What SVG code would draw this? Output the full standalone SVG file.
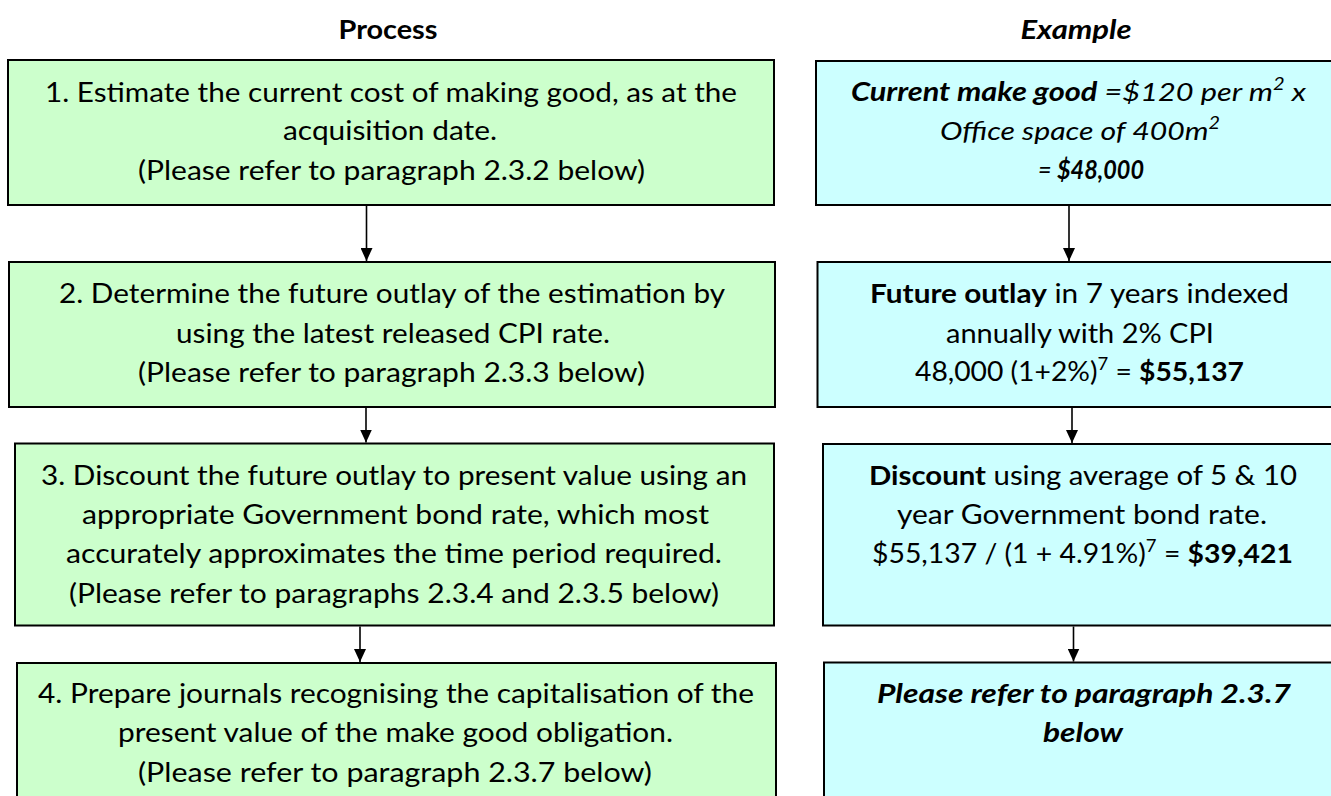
<svg xmlns="http://www.w3.org/2000/svg" width="1331" height="796" viewBox="0 0 1331 796">
<defs>
<marker id="ah" markerUnits="userSpaceOnUse" markerWidth="14" markerHeight="12" refX="13" refY="6" orient="auto">
<path d="M0,0 L13,6 L0,12 Z" fill="#000"/>
</marker>
<style>
.t{font-family:Lato,"Open Sans",sans-serif;font-size:26px;fill:#000;text-anchor:middle}
.h{font-weight:bold}
.b{font-weight:bold}
.i{font-style:italic}
.g{fill:#CCFFCC;stroke:#000;stroke-width:2}
.c{fill:#CCFFFF;stroke:#000;stroke-width:2}
.sup{font-size:17px}
.con{stroke:#000;stroke-width:1.6;fill:none;marker-end:url(#ah)}
</style>
</defs>
<rect width="1331" height="796" fill="#fff"/>
<g id="headers">
<text class="t h" x="388" y="39" textLength="99" lengthAdjust="spacingAndGlyphs">Process</text>
<text class="t h i" x="1076" y="39" textLength="111" lengthAdjust="spacingAndGlyphs">Example</text>
</g>
<g id="step1">
<rect class="g" x="8" y="60" width="766" height="145"/>
<text class="t" x="391" y="101.5" textLength="692" lengthAdjust="spacingAndGlyphs">1. Estimate the current cost of making good, as at the</text>
<text class="t" x="390" y="140" textLength="214" lengthAdjust="spacingAndGlyphs">acquisition date.</text>
<text class="t" x="391.5" y="179.5" textLength="507" lengthAdjust="spacingAndGlyphs">(Please refer to paragraph 2.3.2 below)</text>
</g>
<g id="step2">
<rect class="g" x="9" y="262" width="766" height="145"/>
<text class="t" x="392" y="303" textLength="666" lengthAdjust="spacingAndGlyphs">2. Determine the future outlay of the estimation by</text>
<text class="t" x="393" y="342.5" textLength="434" lengthAdjust="spacingAndGlyphs">using the latest released CPI rate.</text>
<text class="t" x="391.5" y="381.5" textLength="507" lengthAdjust="spacingAndGlyphs">(Please refer to paragraph 2.3.3 below)</text>
</g>
<g id="step3">
<rect class="g" x="15" y="443.5" width="759" height="182"/>
<text class="t" x="394" y="485" textLength="706" lengthAdjust="spacingAndGlyphs">3. Discount the future outlay to present value using an</text>
<text class="t" x="395.5" y="523.5" textLength="627" lengthAdjust="spacingAndGlyphs">appropriate Government bond rate, which most</text>
<text class="t" x="394" y="563" textLength="656" lengthAdjust="spacingAndGlyphs">accurately approximates the time period required.</text>
<text class="t" x="394" y="602.5" textLength="650" lengthAdjust="spacingAndGlyphs">(Please refer to paragraphs 2.3.4 and 2.3.5 below)</text>
</g>
<g id="step4">
<rect class="g" x="17" y="663" width="759" height="140"/>
<text class="t" x="396" y="703" textLength="716" lengthAdjust="spacingAndGlyphs">4. Prepare journals recognising the capitalisation of the</text>
<text class="t" x="395.5" y="742" textLength="555" lengthAdjust="spacingAndGlyphs">present value of the make good obligation.</text>
<text class="t" x="395" y="781.5" textLength="514" lengthAdjust="spacingAndGlyphs">(Please refer to paragraph 2.3.7 below)</text>
</g>
<g id="example1">
<rect class="c" x="816" y="61" width="520" height="144"/>
<text class="t i" x="1078.5" y="101" textLength="455" lengthAdjust="spacingAndGlyphs"><tspan class="b">Current make good</tspan> =$120 per m<tspan class="sup" dy="-11">2</tspan><tspan dy="11"> x</tspan></text>
<text class="t i" x="1080" y="140" textLength="280" lengthAdjust="spacingAndGlyphs">Office space of 400m<tspan class="sup" dy="-11">2</tspan></text>
<text class="t i" x="1091" y="179" textLength="106" lengthAdjust="spacingAndGlyphs">= <tspan class="b">$48,000</tspan></text>
</g>
<g id="example2">
<rect class="c" x="817.5" y="262" width="520" height="145"/>
<text class="t" x="1079.5" y="303" textLength="419" lengthAdjust="spacingAndGlyphs"><tspan class="b">Future outlay</tspan> in 7 years indexed</text>
<text class="t" x="1080" y="342.5" textLength="268" lengthAdjust="spacingAndGlyphs">annually with 2% CPI</text>
<text class="t" x="1079.5" y="381" textLength="329" lengthAdjust="spacingAndGlyphs">48,000 (1+2%)<tspan class="sup" dy="-11">7</tspan><tspan dy="11"> = </tspan><tspan class="b">$55,137</tspan></text>
</g>
<g id="example3">
<rect class="c" x="823" y="444" width="520" height="181.5"/>
<text class="t" x="1083" y="485" textLength="428" lengthAdjust="spacingAndGlyphs"><tspan class="b">Discount</tspan> using average of 5 &amp; 10</text>
<text class="t" x="1082" y="523.5" textLength="370" lengthAdjust="spacingAndGlyphs">year Government bond rate.</text>
<text class="t" x="1082.5" y="563" textLength="421" lengthAdjust="spacingAndGlyphs">$55,137 / (1 + 4.91%)<tspan class="sup" dy="-11">7</tspan><tspan dy="11"> = </tspan><tspan class="b">$39,421</tspan></text>
</g>
<g id="example4">
<rect class="c" x="824" y="662.5" width="520" height="140"/>
<text class="t b i" x="1084" y="703" textLength="414" lengthAdjust="spacingAndGlyphs">Please refer to paragraph 2.3.7</text>
<text class="t b i" x="1083" y="742" textLength="80" lengthAdjust="spacingAndGlyphs">below</text>
</g>
<g id="connectors">
<line class="con" x1="366.5" y1="206" x2="366.5" y2="261"/>
<line class="con" x1="366" y1="408" x2="366" y2="442.5"/>
<line class="con" x1="360" y1="626.5" x2="360" y2="662"/>
<line class="con" x1="1069" y1="206" x2="1069" y2="261"/>
<line class="con" x1="1072" y1="408" x2="1072" y2="443"/>
<line class="con" x1="1073.5" y1="626.5" x2="1073.5" y2="661.5"/>
</g>
</svg>
